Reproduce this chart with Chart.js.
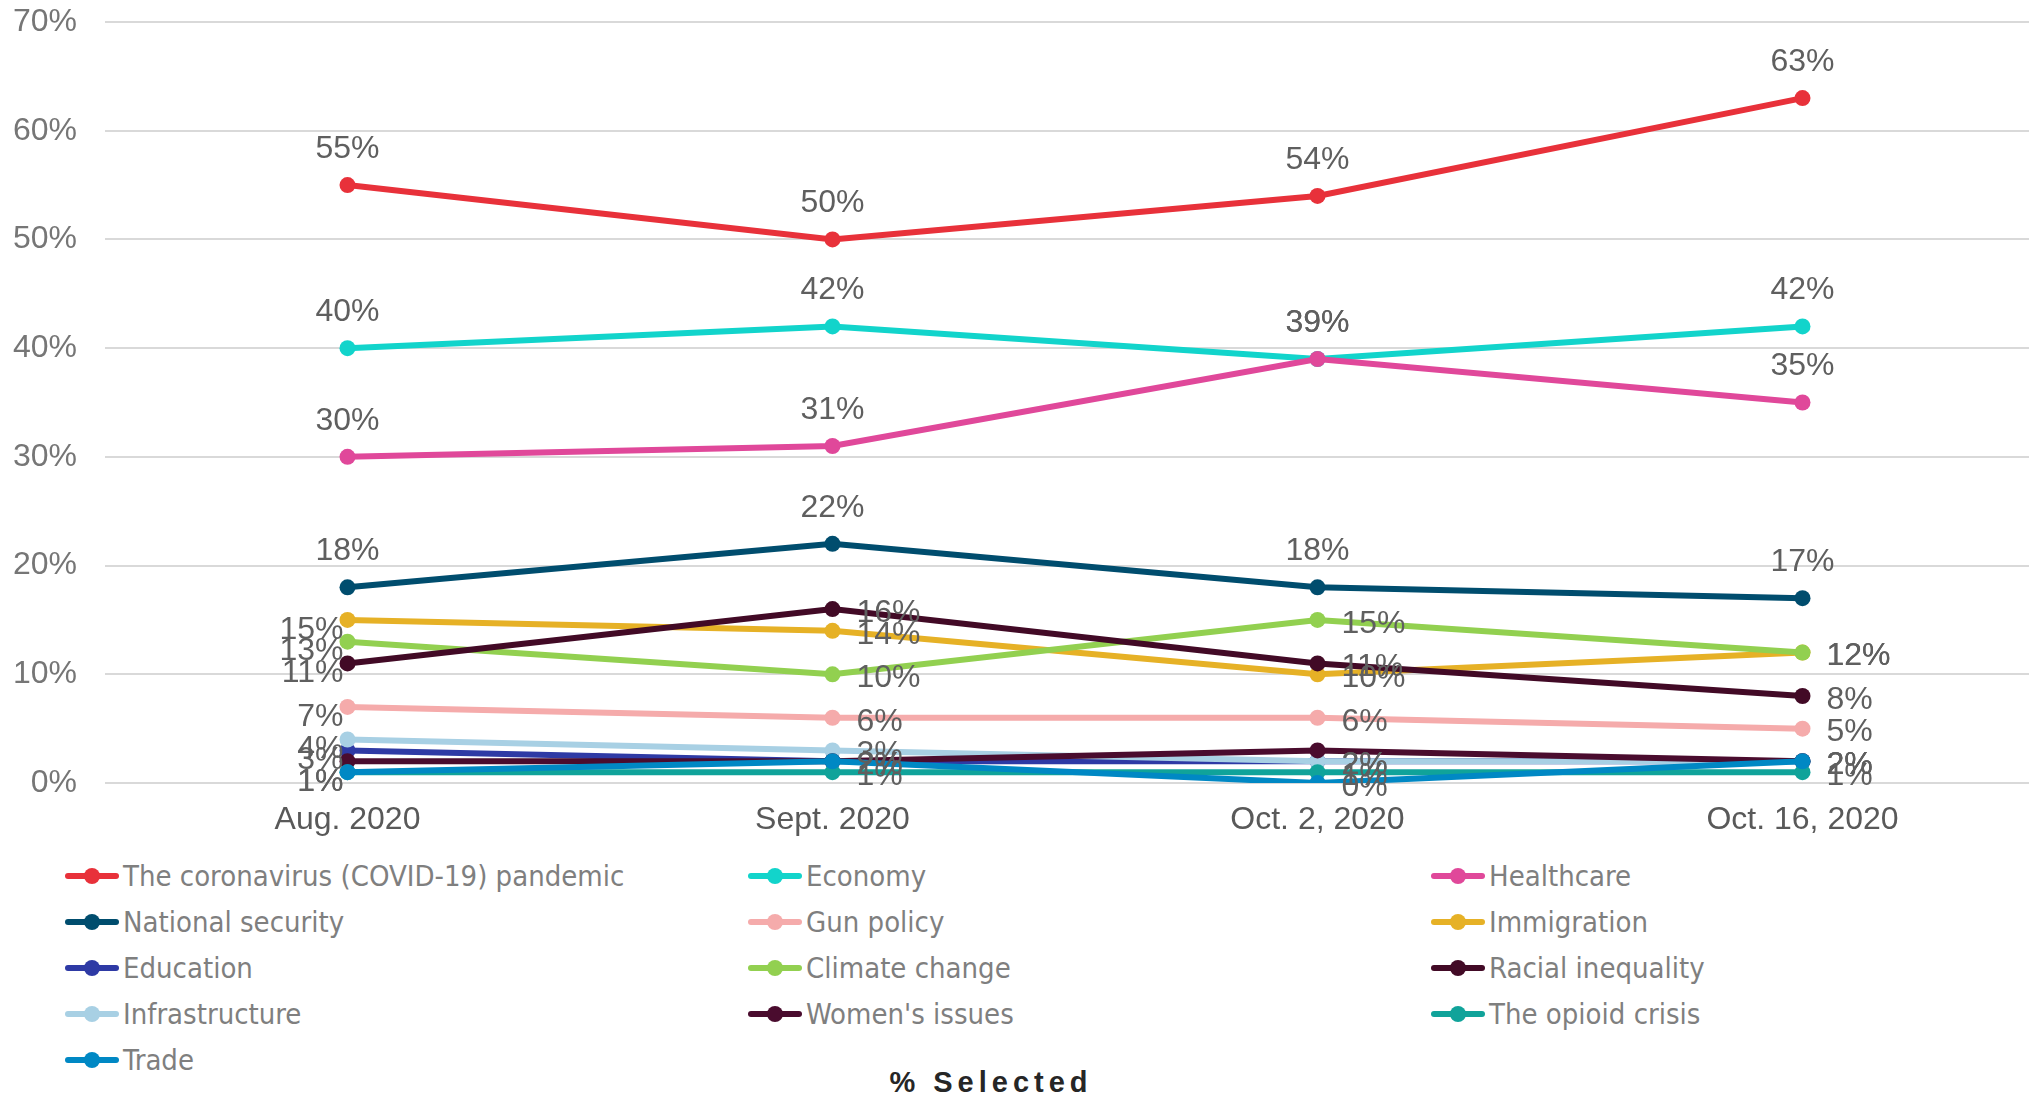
<!DOCTYPE html>
<html>
<head>
<meta charset="utf-8">
<script src="https://cdn.jsdelivr.net/npm/chart.js@4.4.1/dist/chart.umd.min.js"></script>
<style>
    html, body { margin: 0; padding: 0; background: #fff; overflow: hidden; }
    body { width: 2029px; height: 1098px; position: relative; }
    #wrap { position: absolute; left: 0; top: 0; width: 2053px; height: 850px; }
    #legend {
        position: absolute; left: 65px; top: 853px; width: 2049px;
        display: flex; flex-wrap: wrap;
        font-family: "Liberation Sans Narrow", "DejaVu Sans Condensed", "Liberation Sans", sans-serif;
        font-stretch: condensed; font-size: 29px; color: #7f7f7f;
    }
    .item { width: 683px; height: 46px; display: flex; align-items: center; }
    .mark { position: relative; width: 54px; height: 6px; border-radius: 3px; margin-right: 4px; }
    .mark span { position: absolute; left: 19px; top: -5px; width: 16px; height: 16px; border-radius: 50%; }
    #title {
        position: absolute; left: 0; width: 1982px; top: 1066px; text-align: center;
        font-family: "Liberation Sans", Arial, sans-serif; font-weight: bold; font-size: 29px;
        letter-spacing: 5px; color: #262626;
    }
</style>
</head>
<body>
<div id="wrap"><canvas id="grafik" width="2053" height="850"></canvas></div>
<div id="legend"></div>
<div id="title">% Selected</div>
<script>
const donemler = ['Aug. 2020', 'Sept. 2020', 'Oct. 2, 2020', 'Oct. 16, 2020'];
const yTikleri = [0, 10, 20, 30, 40, 50, 60, 70];

const covid = [55, 50, 54, 63];
const ekonomi = [40, 42, 39, 42];
const saglik = [30, 31, 39, 35];
const ulusalGuvenlik = [18, 22, 18, 17];
const silahPolitikasi = [7, 6, 6, 5];
const gocmenlik = [15, 14, 10, 12];
const egitim = [3, 2, 2, 2];
const iklim = [13, 10, 15, 12];
const irkEsitsizligi = [11, 16, 11, 8];
const altyapi = [4, 3, 2, 2];
const kadinSorunlari = [2, 2, 3, 2];
const opioid = [1, 1, 1, 1];
const ticaret = [1, 2, 0, 2];

const seriler = [
    { label: 'The coronavirus (COVID-19) pandemic', data: covid, renk: '#e8313a', etiket: 'top' },
    { label: 'Economy', data: ekonomi, renk: '#12d4cb', etiket: 'top' },
    { label: 'Healthcare', data: saglik, renk: '#e0489a', etiket: 'top' },
    { label: 'National security', data: ulusalGuvenlik, renk: '#004d6e', etiket: 'top' },
    { label: 'Gun policy', data: silahPolitikasi, renk: '#f5abab', etiket: 'side' },
    { label: 'Immigration', data: gocmenlik, renk: '#e6b126', etiket: 'side' },
    { label: 'Education', data: egitim, renk: '#2e3aa5', etiket: 'side' },
    { label: 'Climate change', data: iklim, renk: '#92d050', etiket: 'side' },
    { label: 'Racial inequality', data: irkEsitsizligi, renk: '#420a26', etiket: 'side' },
    { label: 'Infrastructure', data: altyapi, renk: '#a8d0e4', etiket: 'side' },
    { label: "Women's issues", data: kadinSorunlari, renk: '#4a0c2e', etiket: 'none' },
    { label: 'The opioid crisis', data: opioid, renk: '#10a39a', etiket: 'side' },
    { label: 'Trade', data: ticaret, renk: '#0088c4', etiket: 'side' },
];

// veri etiketleri (datalabels eklentisi yok, elle çiziyoruz)
const etiketEklentisi = {
    id: 'etiketler',
    afterDatasetsDraw(chart) {
        const c = chart.ctx;
        c.save();
        c.font = '32px "Liberation Sans", Arial, sans-serif';
        c.fillStyle = '#5f5f5f';
        c.textBaseline = 'middle';
        chart.data.datasets.forEach((ds, i) => {
            if (ds.etiket === 'none') return;
            chart.getDatasetMeta(i).data.forEach((p, j) => {
                const yazi = ds.data[j] + '%';
                if (ds.etiket === 'top') {
                    c.textAlign = 'center';
                    c.fillText(yazi, p.x, p.y - 36);
                } else if (j === 0) {
                    c.textAlign = 'right';
                    c.fillText(yazi, p.x - 4, p.y + 10);
                } else {
                    c.textAlign = 'left';
                    c.fillText(yazi, p.x + 24, p.y + 4);
                }
            });
        });
        c.restore();
    }
};

const ctx = document.getElementById('grafik').getContext('2d');
const grafik = new Chart(ctx, {
    type: 'line',
    data: {
        labels: donemler,
        datasets: seriler.map((s, i) => ({
            label: s.label,
            data: s.data,
            etiket: s.etiket,
            borderColor: s.renk,
            backgroundColor: s.renk,
            pointBackgroundColor: s.renk,
            pointBorderColor: s.renk,
            borderWidth: 6,
            pointRadius: 8,
            pointBorderWidth: 0,
            tension: 0,
            fill: false,
            order: seriler.length - i, // sonraki seriler üstte
        })),
    },
    options: {
        responsive: false,
        animation: false,
        layout: { padding: { top: 22, left: 0, right: 0, bottom: 0 } },
        plugins: {
            legend: { display: false },
            tooltip: { enabled: false },
        },
        scales: {
            x: {
                offset: true,
                grid: { display: false, drawTicks: false },
                border: { display: false },
                ticks: {
                    padding: 18,
                    color: '#595959',
                    font: { family: '"Liberation Sans", Arial, sans-serif', size: 32 },
                },
                afterFit: (s) => { s.height = 67; s.paddingLeft = 0; s.paddingRight = 0; },
            },
            y: {
                min: 0,
                max: 70,
                afterBuildTicks: (s) => { s.ticks = yTikleri.map(v => ({ value: v })); },
                grid: { color: '#d9d9d9', lineWidth: 2, drawTicks: false },
                border: { display: false },
                ticks: {
                    padding: 28,
                    color: '#767676',
                    font: { family: '"Liberation Sans", Arial, sans-serif', size: 32 },
                    callback: (v) => v + '%',
                },
                afterFit: (s) => { s.width = 105; s.paddingTop = 0; s.paddingBottom = 0; },
            },
        },
    },
    plugins: [etiketEklentisi],
});

// HTML lejant
const lejant = document.getElementById('legend');
seriler.forEach(s => {
    const d = document.createElement('div');
    d.className = 'item';
    d.innerHTML = `<div class="mark" style="background:${s.renk}"><span style="background:${s.renk}"></span></div>${s.label}`;
    lejant.appendChild(d);
});
</script>
</body>
</html>
